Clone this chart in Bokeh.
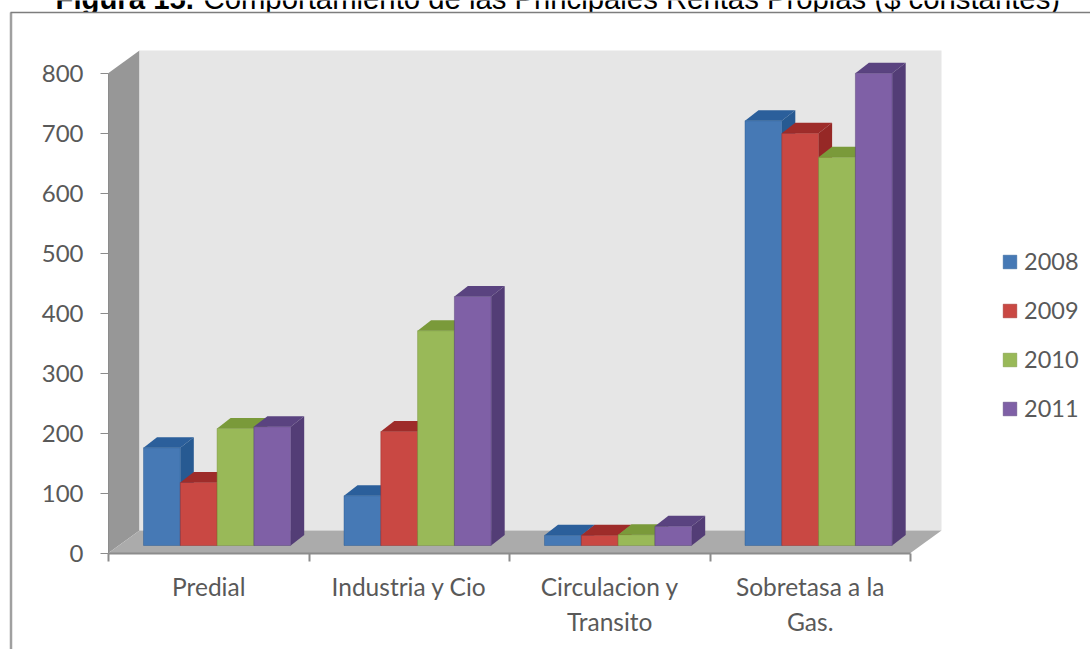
from bokeh.plotting import figure
from bokeh.models import Range1d, LinearAxis, FixedTicker, Label, Legend, LegendItem
from bokeh.embed import file_html
from bokeh.resources import INLINE

categories = ["Predial", "Industria y Cio", "Circulacion y\nTransito", "Sobretasa a la\nGas."]
years = ["2008", "2009", "2010", "2011"]
v2008 = [163, 83, 17, 708]
v2009 = [105, 190, 17, 687]
v2010 = [195, 358, 18, 647]
v2011 = [198, 415, 32, 787]
series = [v2008, v2009, v2010, v2011]
y_ticks = [0, 100, 200, 300, 400, 500, 600, 700, 800]
front = ["#4679b5", "#c94843", "#99b958", "#7f60a6"]
top = ["#2b5f9b", "#9e2c2a", "#7a9a3a", "#5a4380"]
side = ["#275a92", "#962826", "#738f36", "#533d76"]

W, H = 1090, 649
X0, CAT = 108.0, 200.5   # pixel of x=0 and pixels per category
Y0, UNIT = 552.5, 0.6    # pixel of y=0 and pixels per value unit

def X(px): return (px - X0) / CAT
def Y(px): return (Y0 - px) / UNIT

p = figure(width=W, height=H, output_backend="svg", toolbar_location=None,
           x_range=Range1d(X(0), X(W)), y_range=Range1d(Y(H), Y(0)),
           x_axis_type=None, y_axis_type=None, min_border=0,
           outline_line_color=None, background_fill_color="#ffffff", border_fill_color="#ffffff")
p.xgrid.visible = False
p.ygrid.visible = False

# title sits underneath the chart's white box, which trims its descenders
TITLE_Y = H + 2
p.add_layout(Label(x=55, y=TITLE_Y, x_units="screen", y_units="screen", text="Figura 15.", level="underlay",
                   text_font="Liberation Sans", text_font_style="bold", text_font_size="29.3px",
                   text_color="#000000", text_baseline="alphabetic"))
p.add_layout(Label(x=203, y=TITLE_Y, x_units="screen", y_units="screen", level="underlay",
                   text="Comportamiento de las Principales Rentas Propias ($ constantes)",
                   text_font="Liberation Sans", text_font_size="29.3px",
                   text_color="#000000", text_baseline="alphabetic"))
p.patch([X(10), X(W), X(W), X(10)], [Y(12), Y(12), Y(H), Y(H)], fill_color="#ffffff", line_color=None)

# chart box walls and floor
dw_x, dw_y = 31 / CAT, 22.5 / UNIT
p.patch([0, dw_x, dw_x, 0], [0, dw_y, 800 + dw_y, 800], fill_color="#979797", line_color=None)
p.patch([dw_x, 4 + dw_x, 4 + dw_x, dw_x], [dw_y, dw_y, 800 + dw_y, 800 + dw_y], fill_color="#e6e6e6", line_color=None)
p.patch([0, dw_x, 4 + dw_x, 4], [0, dw_y, dw_y, 0], fill_color="#ababab", line_color=None)

# outer frame
p.line([X(10.5), X(10.5)], [Y(12), Y(H)], line_color="#a0a0a0", line_width=2.5)
p.line([X(10), X(W)], [Y(12), Y(12)], line_color="#7d7d7d", line_width=1.5)

# 3-D bars
g0, bw = 35.0 / CAT, 36.8 / CAT
dx, dy = 13.5 / CAT, 10.5 / UNIT
base = 7.5 / UNIT
legend_r = []
for c in range(len(categories)):
    for s, vals in enumerate(series):
        x0 = c + g0 + s * bw
        x1 = x0 + bw
        yt = base + vals[c]
        p.patch([x0, x1, x1 + dx, x0 + dx], [yt, yt, yt + dy, yt + dy], fill_color=top[s], line_color=None)
        p.patch([x1, x1 + dx, x1 + dx, x1], [base, base + dy, yt + dy, yt], fill_color=side[s], line_color=None)
        r = p.vbar(x=[(x0 + x1) / 2], width=bw, bottom=[base], top=[yt], fill_color=front[s],
                   line_color=side[s], line_alpha=0.45, line_width=1)
        if c == 0:
            legend_r.append(r)

yaxis = LinearAxis(ticker=FixedTicker(ticks=y_ticks), fixed_location=0, bounds=(0, 800),
                   axis_line_color="#8c8c8c", axis_line_width=1,
                   major_tick_line_color="#8c8c8c", major_tick_out=8, major_tick_in=0,
                   minor_tick_line_color=None, major_label_standoff=17,
                   major_label_text_font="Lato", major_label_text_font_size="24px",
                   major_label_text_color="#595959")
p.add_layout(yaxis, "left")

xaxis = LinearAxis(ticker=FixedTicker(ticks=[i + 0.5 for i in range(len(categories))],
                                      minor_ticks=list(range(len(categories) + 1))),
                   fixed_location=0, bounds=(0, 4),
                   major_label_overrides={i + 0.5: t for i, t in enumerate(categories)},
                   axis_line_color="#8c8c8c", axis_line_width=2,
                   major_tick_line_color=None, major_tick_out=0, major_tick_in=0,
                   minor_tick_line_color="#8c8c8c", minor_tick_out=8, minor_tick_in=0, minor_tick_line_width=2,
                   major_label_standoff=11,
                   major_label_text_font="Lato", major_label_text_font_size="24.5px",
                   major_label_text_color="#595959")
p.add_layout(xaxis, "below")

legend = Legend(items=[LegendItem(label=y, renderers=[r]) for y, r in zip(years, legend_r)],
                location=(1001, H - 422), orientation="vertical",
                glyph_width=17, glyph_height=17, label_standoff=6, spacing=21, padding=0, margin=0,
                label_text_font="Lato", label_text_font_size="23.5px", label_text_color="#595959",
                background_fill_alpha=0, border_line_color=None)
p.add_layout(legend, "center")

open("out.html", "w").write(file_html(p, INLINE))
